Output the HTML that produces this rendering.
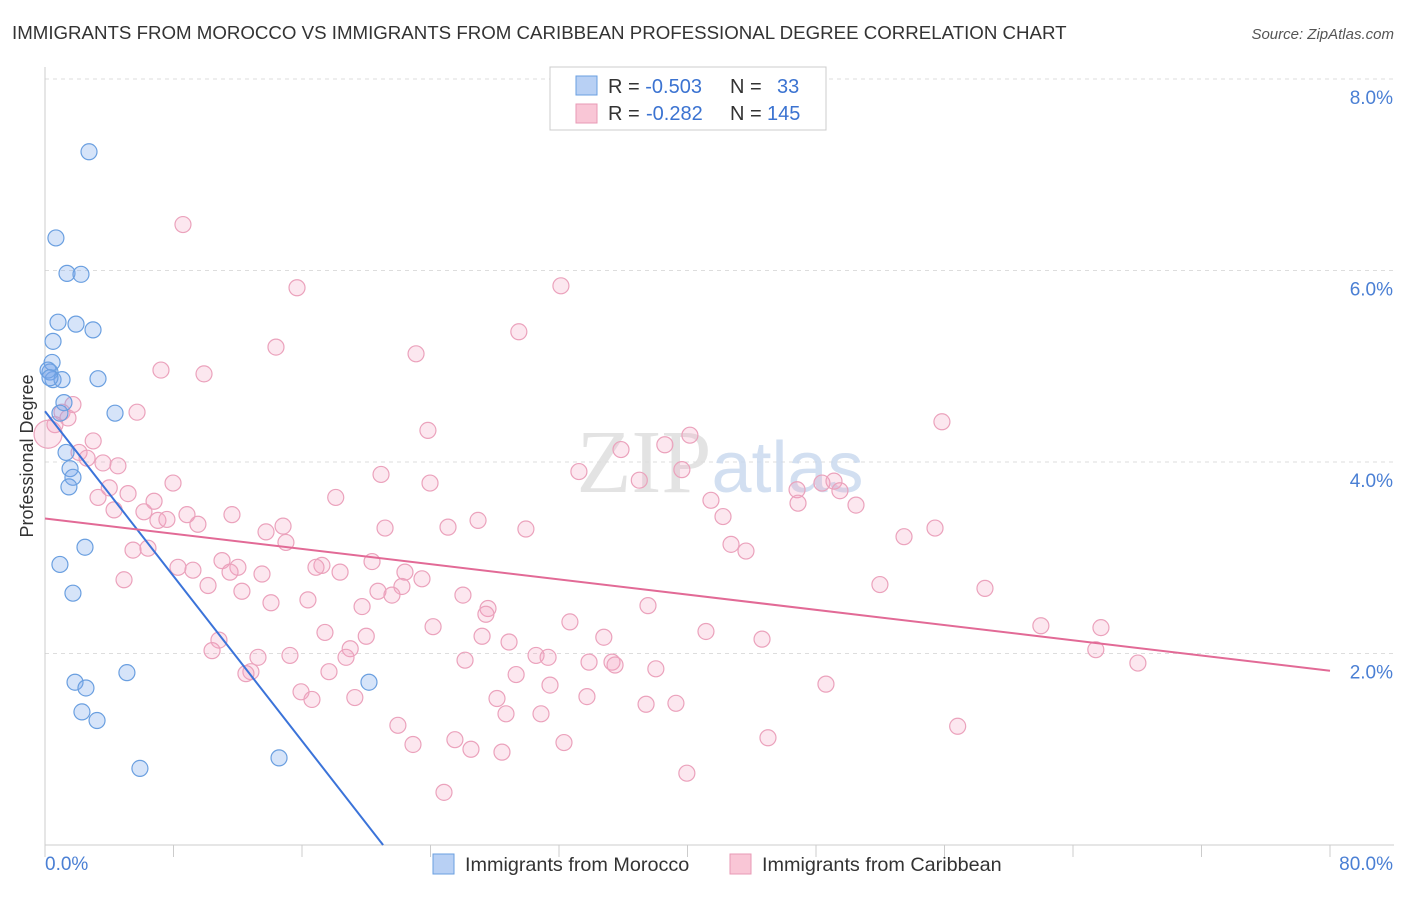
<!DOCTYPE html>
<html><head><meta charset="utf-8"><style>
body{margin:0;background:#fff;font-family:"Liberation Sans",sans-serif;}
</style></head><body>
<svg id="chart" width="1406" height="892" xmlns="http://www.w3.org/2000/svg" style="font-family:'Liberation Sans',sans-serif">
<text x="12" y="39" font-size="18.7" fill="#333">IMMIGRANTS FROM MOROCCO VS IMMIGRANTS FROM CARIBBEAN PROFESSIONAL DEGREE CORRELATION CHART</text>
<text x="1394" y="39" font-size="15" fill="#555" text-anchor="end" font-style="italic">Source: ZipAtlas.com</text>
<g id="grid"></g>
<text x="720" y="492" font-size="90" fill="#ddd" text-anchor="middle" font-family="Liberation Serif" opacity="0.8">ZIP<tspan fill="#c8d8ee" font-family="Liberation Sans" font-size="72">atlas</tspan></text>
<g id="pts"></g>
<g id="lines"></g>
<text transform="translate(33,456) rotate(-90)" font-size="18" fill="#333" text-anchor="middle">Professional Degree</text>
<g>
<rect x="550" y="67" width="276" height="63" fill="#fff" stroke="#ccc"/>
<rect x="576" y="76" width="21" height="19" fill="#b8d0f4" stroke="#6a9fe0"/>
<rect x="576" y="104" width="21" height="19" fill="#f9c6d6" stroke="#e89ab5"/>
<text x="608" y="93" font-size="20" fill="#333">R = <tspan fill="#3b73d1">-0.503</tspan><tspan x="730">N = </tspan><tspan x="777" fill="#3b73d1">33</tspan></text>
<text x="608" y="120" font-size="20" fill="#333">R = <tspan x="646" fill="#3b73d1">-0.282</tspan><tspan x="730">N = </tspan><tspan x="767" fill="#3b73d1">145</tspan></text>
</g>
<g>
<rect x="433" y="854" width="21" height="20" fill="#b8d0f4" stroke="#6a9fe0"/>
<text x="465" y="871" font-size="19.8" fill="#333">Immigrants from Morocco</text>
<rect x="730" y="854" width="21" height="20" fill="#f9c6d6" stroke="#e89ab5"/>
<text x="762" y="871" font-size="19.8" fill="#333">Immigrants from Caribbean</text>
</g>
</svg>
<script>
const yTicks=[2,4,6,8];
const yTickLabels=["2.0%","4.0%","6.0%","8.0%"];
const xTickLabels=["0.0%","80.0%"];
const blueX=[2.74,0.68,1.37,2.24,0.81,1.93,2.99,0.5,0.44,0.31,0.5,1.06,3.3,1.18,4.36,0.93,1.31,1.56,1.74,1.49,2.49,0.93,1.74,1.87,2.55,5.1,2.3,3.24,5.91,14.57,20.17,0.19,0.31];
const blueY=[7.24,6.34,5.97,5.96,5.46,5.44,5.38,5.26,5.04,4.94,4.86,4.86,4.87,4.62,4.51,4.51,4.10,3.93,3.84,3.74,3.11,2.93,2.63,1.70,1.64,1.80,1.39,1.30,0.80,0.91,1.70,4.96,4.88];
const pinkX=[8.59,15.69,32.12,29.5,14.38,23.1,7.22,9.9,5.73,1.74,1.06,1.43,0.62,23.84,55.84,3.0,2.12,2.62,3.61,4.54,20.92,38.59,35.86,39.65,33.24,37.0,23.97,7.97,4.0,5.17,3.3,18.1,6.79,4.3,6.16,7.03,7.59,8.84,9.52,11.64,14.82,13.76,21.17,25.09,26.96,29.94,40.15,41.46,42.21,46.82,46.88,48.37,49.12,49.49,50.49,53.48,55.41,42.71,43.64,5.48,6.41,15.0,8.28,9.21,11.02,12.01,11.52,13.51,20.36,17.24,16.87,18.37,22.41,23.47,22.22,20.73,21.6,4.92,10.15,12.26,14.07,16.37,19.74,26.02,27.58,27.45,51.98,58.52,37.54,32.68,24.16,17.43,10.83,20.0,19.0,27.21,28.89,34.79,41.15,44.64,62.0,65.74,65.42,10.4,13.26,15.25,18.74,26.15,30.57,31.32,33.87,35.3,17.68,12.82,12.51,15.94,16.62,19.29,29.33,31.44,33.74,38.03,35.49,48.62,28.14,28.7,30.88,37.42,39.28,21.97,22.91,25.52,26.52,28.45,32.31,45.01,56.82,68.04,39.96,24.84,0.19];
const pinkY=[6.48,5.82,5.84,5.36,5.2,5.13,4.96,4.92,4.52,4.6,4.52,4.46,4.39,4.33,4.42,4.22,4.1,4.04,3.99,3.96,3.87,4.18,4.13,3.92,3.9,3.81,3.78,3.78,3.73,3.67,3.63,3.63,3.59,3.5,3.48,3.39,3.4,3.45,3.35,3.45,3.33,3.27,3.31,3.32,3.39,3.3,4.28,3.6,3.43,3.71,3.57,3.78,3.8,3.7,3.55,3.22,3.31,3.14,3.07,3.08,3.1,3.16,2.9,2.87,2.97,2.9,2.85,2.83,2.96,2.92,2.9,2.85,2.85,2.78,2.7,2.65,2.61,2.77,2.71,2.65,2.53,2.56,2.49,2.61,2.47,2.41,2.72,2.68,2.5,2.33,2.28,2.22,2.14,2.18,2.05,2.18,2.12,2.17,2.23,2.15,2.29,2.27,2.04,2.03,1.96,1.98,1.96,1.93,1.98,1.96,1.91,1.91,1.81,1.81,1.79,1.6,1.52,1.54,1.78,1.67,1.55,1.84,1.88,1.68,1.53,1.37,1.37,1.47,1.48,1.25,1.05,1.1,1.0,0.97,1.07,1.12,1.24,1.9,0.75,0.55,4.29];
const blueTrend=[[0,4.53],[21.05,0]];
const pinkTrend=[[0,3.41],[80,1.82]];
const NS="http://www.w3.org/2000/svg";
const X0=45,X1=1330,Y0=845,YTOP=79;
const xs=v=>X0+v/80*(X1-X0);
const ys=v=>Y0-v/8*(Y0-YTOP);
function mk(t,a,p){const e=document.createElementNS(NS,t);for(const k in a)e.setAttribute(k,a[k]);p.appendChild(e);return e;}
const grid=document.getElementById('grid');
yTicks.forEach((t,i)=>{
 const l=mk('line',{x1:X0,x2:1394,y1:ys(t),y2:ys(t),stroke:'#ddd','stroke-dasharray':'4,4'},grid);
 
 
 const tx=mk('text',{x:1393,y:ys(t)+25,'font-size':19,fill:'#4a7fd4','text-anchor':'end'},grid);
 tx.textContent=yTickLabels[i];
 
 
});
const ax=mk('line',{x1:X0,x2:X0,y1:67,y2:Y0,stroke:'#ccc'},grid);


const bx=mk('line',{x1:X0,x2:1394,y1:Y0,y2:Y0,stroke:'#ccc'},grid);


for(let i=0;i<=10;i++){
 const t=mk('line',{x1:xs(i*8),x2:xs(i*8),y1:Y0,y2:Y0+12,stroke:'#ccc'},grid);
 
 
}
const xl0=mk('text',{x:45,y:870,'font-size':19,fill:'#4a7fd4'},grid);xl0.textContent=xTickLabels[0];


const xl1=mk('text',{x:1393,y:870,'font-size':19,fill:'#4a7fd4','text-anchor':'end'},grid);xl1.textContent=xTickLabels[1];


const pts=document.getElementById('pts');
pinkX.forEach((v,i)=>{
 const c=mk('circle',{cx:xs(v),cy:ys(pinkY[i]),r:i==pinkX.length-1?14:8,fill:'rgba(244,160,190,0.25)',stroke:'#eba2bc','stroke-width':1.2},pts);
 
 
});
blueX.forEach((v,i)=>{
 const c=mk('circle',{cx:xs(v),cy:ys(blueY[i]),r:8,fill:'rgba(120,165,235,0.3)',stroke:'#6a9fe0','stroke-width':1.2},pts);
 
 
});
const lines=document.getElementById('lines');
const bl=mk('line',{x1:xs(blueTrend[0][0]),y1:ys(blueTrend[0][1]),x2:xs(blueTrend[1][0]),y2:ys(blueTrend[1][1]),stroke:'#3b73d9','stroke-width':2},lines);


const pl=mk('line',{x1:xs(pinkTrend[0][0]),y1:ys(pinkTrend[0][1]),x2:xs(pinkTrend[1][0]),y2:ys(pinkTrend[1][1]),stroke:'#e26a96','stroke-width':2},lines);


</script>
</body></html>
